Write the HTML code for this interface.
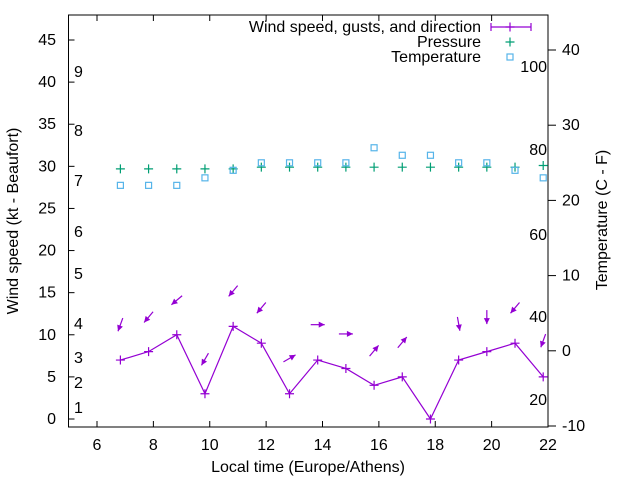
<!DOCTYPE html>
<html><head><meta charset="utf-8"><style>
body{margin:0;background:#fff}
svg text{font-family:"Liberation Sans",sans-serif;font-size:16px;fill:#000}
</style></head><body>
<svg id="chart" width="640" height="480" xmlns="http://www.w3.org/2000/svg">
<g id="axes"></g>
<g id="marks"></g>
<g id="legend"></g>
</svg>
<script>
const times=[6.83,7.83,8.83,9.83,10.83,11.83,12.83,13.83,14.83,15.83,16.83,17.83,18.83,19.83,20.83,21.83];
const wind=[7,8,10,3,11,9,3,7,6,4,5,0,7,8,9,5];
const gusts=[11.2,12.1,14.1,7.1,15.2,13.2,7.2,11.2,10.1,8.1,9.1,0,11.3,12.1,13.2,9.3];
const heading=[200,220,230,210,220,220,60,90,90,40,40,0,170,180,220,200];
const pressure=[29.7,29.7,29.7,29.7,29.7,29.9,29.9,29.9,29.9,29.9,29.9,29.9,29.9,29.9,29.9,30.1];
const temperature=[22,22,22,23,24,25,25,25,25,27,26,26,25,25,24,23];
const xTicks=[6,8,10,12,14,16,18,20,22];
const yTicks=[0,5,10,15,20,25,30,35,40,45];
const y2Ticks=[-10,0,10,20,30,40];
const beaufort=[[1,408],[2,383],[3,358],[4,324],[5,274],[6,232],[7,181],[8,131],[9,72]];
const fahr=[[20,400],[40,317],[60,235],[80,150],[100,67]];
const L=68.5,R=548,T=15,B=427;
const X=t=>97+(t-6)*(548-97)/16;
const Y=v=>419-v*(419-40)/45;
const Y2=c=>426-(c+10)*(426-50)/50;
const NS="http://www.w3.org/2000/svg";
function mk(tag,attrs,parent,txt){const e=document.createElementNS(NS,tag);for(const k in attrs)e.setAttribute(k,attrs[k]);if(txt!==undefined)e.textContent=txt;parent.appendChild(e);return e;}
const ax=document.getElementById('axes'),mg=document.getElementById('marks'),lg=document.getElementById('legend');
let e=mk('rect',{x:L,y:T,width:R-L,height:B-T,fill:'none',stroke:'#000','stroke-width':1},ax);

xTicks.forEach(t=>{const x=X(t);
 mk('line',{x1:x,y1:B,x2:x,y2:B-6,stroke:'#000'},ax);mk('line',{x1:x,y1:T,x2:x,y2:T+6,stroke:'#000'},ax);
 e=mk('text',{x:x,y:450,'text-anchor':'middle'},ax,t);});
yTicks.forEach(v=>{const y=Y(v);mk('line',{x1:L,y1:y,x2:L+6,y2:y,stroke:'#000'},ax);
 e=mk('text',{x:56,y:y+5,'text-anchor':'end'},ax,v);});
y2Ticks.forEach(c=>{const y=Y2(c);mk('line',{x1:R,y1:y,x2:R+8,y2:y,stroke:'#000'},ax);
 e=mk('text',{x:562,y:y+5},ax,c);});
beaufort.forEach(b=>{e=mk('text',{x:74,y:b[1]+5},ax,b[0]);});
fahr.forEach(f=>{e=mk('text',{x:547,y:f[1]+5,'text-anchor':'end'},ax,f[0]);});
e=mk('text',{x:308,y:472,'text-anchor':'middle'},ax,'Local time (Europe/Athens)');
e=mk('text',{x:0,y:0,'text-anchor':'middle',transform:'translate(18,221) rotate(-90)'},ax,'Wind speed (kt - Beaufort)');
e=mk('text',{x:0,y:0,'text-anchor':'middle',transform:'translate(607,220) rotate(-90)'},ax,'Temperature (C - F)');
const P='#9400d3',G='#009e73',C='#56b4e9';
function plus(x,y,col,g){mk('path',{d:`M${x-4.5} ${y}H${x+4.5}M${x} ${y-4.5}V${y+4.5}`,stroke:col,'stroke-width':1.2,fill:'none'},g);}
e=mk('polyline',{points:times.map((t,i)=>X(t)+','+Y(wind[i])).join(' '),fill:'none',stroke:P,'stroke-width':1.2},mg);

times.forEach((t,i)=>{plus(X(t),Y(wind[i]),P,mg);
 if(wind[i]>0){const cx=X(t),cy=Y(gusts[i]),a=heading[i]*Math.PI/180,dx=Math.sin(a),dy=-Math.cos(a),h=7;
  const x1=cx-dx*h,y1=cy-dy*h,x2=cx+dx*h,y2=cy+dy*h;
  e=mk('line',{x1:x1,y1:y1,x2:x2,y2:y2,stroke:P,'stroke-width':1.2},mg);
  const px=-dy,py=dx,bx=x2-dx*6,by=y2-dy*6;
  mk('polygon',{points:`${x2},${y2} ${bx+px*3},${by+py*3} ${bx-px*3},${by-py*3}`,fill:P},mg);}
 e=mk('path',{d:`M${X(t)-4.5} ${Y(pressure[i])}H${X(t)+4.5}M${X(t)} ${Y(pressure[i])-4.5}V${Y(pressure[i])+4.5}`,stroke:G,'stroke-width':1.2},mg);
 
 e=mk('rect',{x:X(t)-3,y:Y2(temperature[i])-3,width:6,height:6,fill:'none',stroke:C,'stroke-width':1.2},mg);
 
});
const lt=[['Wind speed, gusts, and direction',27],['Pressure',42],['Temperature',57]];
lt.forEach(l=>{e=mk('text',{x:481,y:l[1]+5,'text-anchor':'end'},lg,l[0]);});
mk('path',{d:'M491 27H531M491 23V31M531 23V31',stroke:P,'stroke-width':1.2},lg);plus(510,27,P,lg);
plus(510,42,G,lg);
mk('rect',{x:507,y:54,width:6,height:6,fill:'none',stroke:C,'stroke-width':1.2},lg);
</script>
</body></html>
